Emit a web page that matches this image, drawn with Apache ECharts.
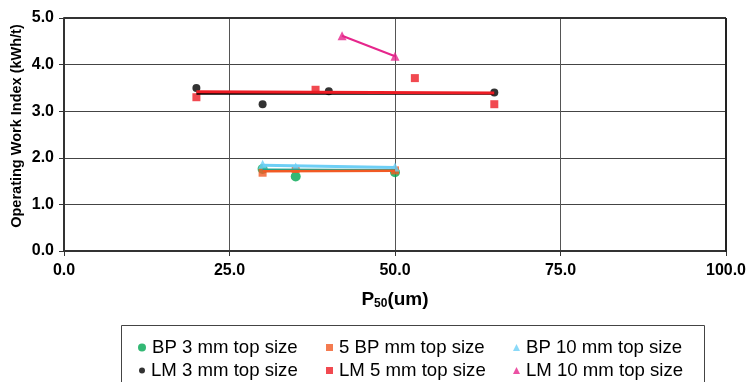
<!DOCTYPE html>
<html>
<head>
<meta charset="utf-8">
<script src="https://cdn.jsdelivr.net/npm/echarts@6/dist/echarts.min.js"></script>
<style>
  html, body { margin: 0; padding: 0; background: #fff; }
  #chart { width: 746px; height: 382px; }
</style>
</head>
<body>
<div id="chart"></div>
<script>
// Measured points: [P50 (um), operating work index (kWh/t)]
const bp3 = [[30, 1.76], [35, 1.60], [50, 1.69]];
const bp5 = [[30, 1.68], [35, 1.76], [50, 1.73]];
const bp10 = [[30, 1.86], [35, 1.80], [50, 1.80]];
const lm3 = [[20, 3.50], [30, 3.15], [40, 3.43], [65, 3.40]];
const lm5 = [[20, 3.30], [38, 3.46], [53, 3.71], [65, 3.15]];
const lm10 = [[42, 4.62], [50, 4.18]];

// Fitted trend lines (end points)
const bp3Trend = [[30, 1.75], [50, 1.74]];
const bp5Trend = [[30, 1.71], [50, 1.72]];
const bp10Trend = [[30, 1.84], [50, 1.79]];
const lm3Trend = [[20, 3.38], [65, 3.38]];
const lm5Trend = [[20, 3.42], [65, 3.39]];
const lm10Trend = [[42, 4.62], [50, 4.18]];

const xTicks = [0, 25, 50, 75, 100];
const yTicks = [0, 1, 2, 3, 4, 5];

const names = ['BP 3 mm top size', '5 BP mm top size', 'BP 10 mm top size',
               'LM 3 mm top size', 'LM 5 mm top size', 'LM 10 mm top size'];
const yTitle = 'Operating Work Index (kWh/t)';

const C = {
  green: '#00A651', orange: '#F15A24', sky: '#6DCFF6',
  black: '#000000', red: '#ED1C24', magenta: '#E6268C', teal: '#1AA58F'
};

const FONT = '"Liberation Sans", Arial, sans-serif';

function scatter(name, data, symbol, size, color) {
  return {
    name, type: 'scatter', data, symbol, symbolSize: size,
    itemStyle: { color }, z: 2, silent: true
  };
}
function trend(id, data, color, width) {
  return {
    id, type: 'line', data, showSymbol: false, symbol: 'none',
    lineStyle: { color, width }, z: 3, silent: true
  };
}

// one legend entry placed at (left, top)
function legendItem(name, icon, size, left, top) {
  return {
    left, top, orient: 'horizontal', padding: 0,
    itemWidth: size, itemHeight: size, selectedMode: false,
    textStyle: { fontFamily: FONT, fontSize: 18.6, color: '#000', padding: [0, 0, 0, 1] },
    data: [{ name, icon }]
  };
}

const row1 = 338, row2 = 361;
const chart = echarts.init(document.getElementById('chart'), null, { renderer: 'canvas' });
chart.setOption({
  animation: false,
  backgroundColor: '#ffffff',
  grid: { left: 64, right: 20, top: 18, bottom: 131, show: false,
          containLabel: false, outerBoundsMode: 'none' },
  xAxis: {
    type: 'value', min: xTicks[0], max: xTicks[xTicks.length - 1], interval: 25,
    name: '{p|P}{s|50}{p|(um)}',
    nameLocation: 'middle', nameGap: 38,
    nameTextStyle: {
      rich: {
        p: { fontFamily: FONT, fontSize: 19, fontWeight: 'bold', color: '#000' },
        s: { fontFamily: FONT, fontSize: 12, fontWeight: 'bold', color: '#000', verticalAlign: 'bottom', padding: [9, 0, 0, 0] }
      }
    },
    axisLine: { onZero: false, lineStyle: { color: '#333', width: 2 } },
    axisTick: { show: true, length: 5, lineStyle: { color: '#333', width: 1 } },
    axisLabel: {
      fontFamily: FONT, fontSize: 16, fontWeight: 'bold', color: '#000', margin: 12,
      formatter: v => v.toFixed(1)
    },
    splitLine: { show: true, lineStyle: { color: '#555', width: 1 } }
  },
  yAxis: {
    type: 'value', min: yTicks[0], max: yTicks[yTicks.length - 1], interval: 1,
    axisLine: { onZero: false, lineStyle: { color: '#333', width: 2 } },
    axisTick: { show: true, length: 5, lineStyle: { color: '#333', width: 1 } },
    axisLabel: {
      fontFamily: FONT, fontSize: 16, fontWeight: 'bold', color: '#000', margin: 10,
      formatter: v => v.toFixed(1)
    },
    splitLine: { show: true, lineStyle: { color: '#444', width: 1 } }
  },
  legend: [
    legendItem(names[0], 'circle', 8, 138, row1),
    legendItem(names[3], 'circle', 6, 139, row2),
    legendItem(names[1], 'rect', 7, 326, row1),
    legendItem(names[4], 'rect', 7, 326, row2),
    legendItem(names[2], 'triangle', 7, 513, row1),
    legendItem(names[5], 'triangle', 7, 513, row2)
  ],
  graphic: [
    // y axis title
    { type: 'text', x: 17, y: 126, rotation: Math.PI / 2, silent: true,
      style: { text: yTitle, fontFamily: FONT, fontSize: 14.5, fontWeight: 'bold',
               fill: '#000', align: 'center', verticalAlign: 'middle' } },
    // legend frame
    { type: 'rect', left: 119, top: 323, shape: { width: 583, height: 80 },
      style: { fill: 'none', stroke: '#444', lineWidth: 1 }, silent: true },
    // plot frame top and right
    { type: 'line', shape: { x1: 64, y1: 18, x2: 726, y2: 18 },
      style: { stroke: '#333', lineWidth: 2 }, silent: true, z: 5 },
    { type: 'line', shape: { x1: 726, y1: 18, x2: 726, y2: 252 },
      style: { stroke: '#222', lineWidth: 2 }, silent: true, z: 5 }
  ],
  series: [
    scatter(names[0], bp3, 'circle', 10, C.green),
    scatter(names[1], bp5, 'rect', 8, C.orange),
    scatter(names[2], bp10, 'triangle', 9, C.sky),
    scatter(names[3], lm3, 'circle', 8, C.black),
    scatter(names[4], lm5, 'rect', 8, C.red),
    scatter(names[5], lm10, 'triangle', 9, C.magenta),
    trend('bp10-trend', bp10Trend, C.sky, 3),
    trend('bp3-trend', bp3Trend, C.teal, 2),
    trend('bp5-trend', bp5Trend, C.orange, 2.5),
    trend('lm3-trend', lm3Trend, C.black, 2.5),
    trend('lm5-trend', lm5Trend, C.red, 3),
    trend('lm10-trend', lm10Trend, C.magenta, 2)
  ]
});
</script>
</body>
</html>
